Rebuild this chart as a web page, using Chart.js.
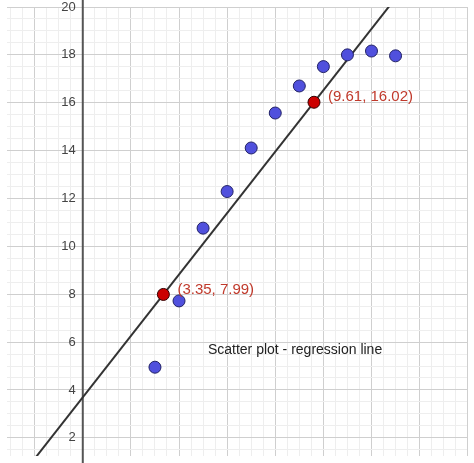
<!DOCTYPE html>
<html><head><script src="https://cdn.jsdelivr.net/npm/chart.js@4"></script>
<style>body{margin:0;background:#fff}</style></head><body>
<canvas id="c" width="474" height="463"></canvas>
<script>
const xs = [3, 4, 5, 6, 7, 8, 9, 10, 11, 12, 13];
const ys = [4.95, 7.72, 10.76, 12.29, 14.11, 15.57, 16.7, 17.51, 18.0, 18.16, 17.96];
const redX = [3.35, 9.61];
const redY = [7.99, 16.02];
const redLabels = ['(3.35, 7.99)', '(9.61, 16.02)'];
const yTickLabels = [2,4,6,8,10,12,14,16,18,20];
const xMin=-3.15, xMax=15.97, yMin=1.24, yMax=20.0;
const slope=(redY[1]-redY[0])/(redX[1]-redX[0]);
const icpt=redY[0]-slope*redX[0];
const lineX=[xMin,xMax];
const overlay={id:'ov',afterDatasetsDraw(ch){
 const c=ch.ctx,x=ch.scales.x,y=ch.scales.y;
 c.save();
 c.font='13px "Liberation Sans", Arial';c.fillStyle='#444';c.textAlign='right';c.textBaseline='middle';
 yTickLabels.forEach(v=>c.fillText(String(v),x.getPixelForValue(0)-7,y.getPixelForValue(v)));
 c.font='15px "Liberation Sans", Arial';c.fillStyle='#c0392b';c.textAlign='left';
 redX.forEach((v,i)=>c.fillText(redLabels[i],x.getPixelForValue(v)+14,y.getPixelForValue(redY[i])-5));
 c.font='14px "Liberation Sans", Arial';c.fillStyle='#222';
 c.fillText('Scatter plot - regression line',x.getPixelForValue(5.2),y.getPixelForValue(5.65));
 c.restore();
},beforeDatasetsDraw(ch){
 const c=ch.ctx,x=ch.scales.x,y=ch.scales.y;const px=x.getPixelForValue(0);
 c.save();c.strokeStyle='#555';c.lineWidth=2;c.beginPath();c.moveTo(px,0);c.lineTo(px,ch.height);c.stroke();c.restore();
}};
const gridColor=ctx=>{const v=ctx.tick.value;return Math.abs(v/2-Math.round(v/2))<1e-6?'#cfcfcf':'#eeeeee';};
new Chart(document.getElementById('c'),{type:'scatter',
 data:{datasets:[
  {type:'line',data:lineX.map(v=>({x:v,y:slope*v+icpt})),borderColor:'#333',borderWidth:2,pointRadius:0,order:3},
  {data:xs.map((v,i)=>({x:v,y:ys[i]})),backgroundColor:'#5050dd',borderColor:'#222266',borderWidth:1,pointRadius:6,order:2},
  {data:redX.map((v,i)=>({x:v,y:redY[i]})),backgroundColor:'#cc0000',borderColor:'#330000',borderWidth:1,pointRadius:6,order:1}
 ]},
 options:{responsive:false,animation:false,layout:{padding:0},
  plugins:{legend:{display:false},tooltip:{enabled:false}},
  scales:{
   x:{type:'linear',min:xMin,max:xMax,border:{display:false},ticks:{display:false},afterFit:a=>{a.height=0;},afterBuildTicks:a=>{a.ticks=[];for(let v=-3;v<=16;v+=0.5)a.ticks.push({value:v});},grid:{color:gridColor,drawTicks:false}},
   y:{type:'linear',min:yMin,max:yMax,border:{display:false},ticks:{display:false},afterFit:a=>{a.width=0;},afterBuildTicks:a=>{a.ticks=[];for(let v=1.5;v<=20;v+=0.5)a.ticks.push({value:v});},grid:{color:gridColor,drawTicks:false}}
  }},
 plugins:[overlay]});
</script></body></html>
